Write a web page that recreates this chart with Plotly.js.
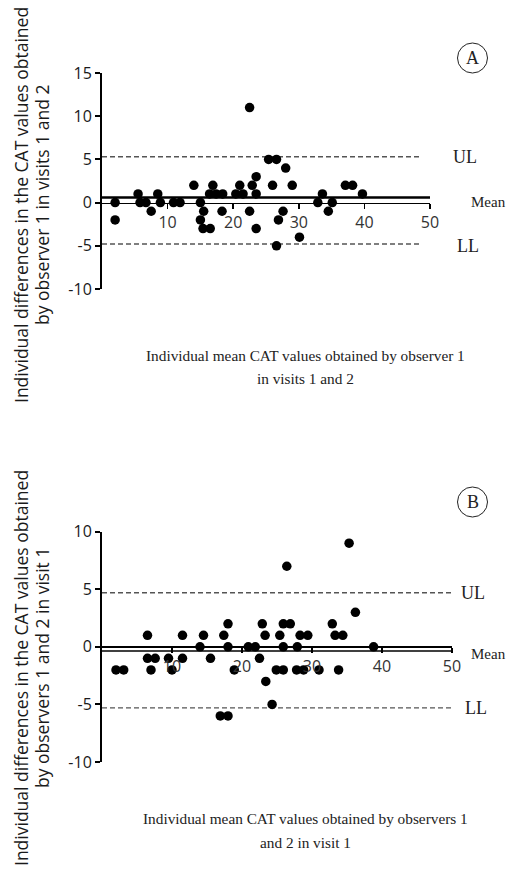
<!DOCTYPE html>
<html>
<head>
<meta charset="utf-8">
<script src="https://cdn.plot.ly/plotly-3.0.1.min.js"></script>
<style>html,body{margin:0;padding:0;background:#fff;}#chart{width:512px;height:874px;}</style>
</head>
<body>
<div id="chart"></div>
<script>
// ---- Panel A data (observer 1, visits 1 and 2) ----
const meanA = [2,2,5.5,5.8,6.7,7.5,8.5,8.9,10.9,11.9,14,15,15,15.5,15.4,16.5,16.4,16.9,17.4,18.4,18.3,20.4,21,21.5,22.5,22.5,22.9,23.5,23.5,23.5,25.4,26.6,26,28,29,27.6,26.9,30.1,26.6,32.9,33.6,35.1,34.5,37.1,38.2,39.7];
const diffA = [0,-2,1,0,0,-1,1,0,0,0,2,0,-2,-1,-3,-3,1,2,1,1,-1,1,2,1,11,-1,2,3,1,-3,5,5,2,4,2,-1,-2,-4,-5,0,1,0,-1,2,2,1];
const limitsA = [5.3, 0.6, -4.8];   // UL, Mean, LL
// ---- Panel B data (observers 1 and 2, visit 1) ----
const meanB = [2,3.1,6.5,6.5,7.6,7,9.5,10,11.5,11.5,14,14.5,15.5,17.4,18,18,18.9,16.9,18,20.9,21.9,22.5,22.9,23.3,23.4,24.3,24.9,25.9,25.4,25.9,26.9,26.4,25.9,27.9,27.8,28.8,28.3,29.4,31,32.9,33.3,34.4,33.8,36.2,35.3,38.8];
const diffB = [-2,-2,1,-1,-1,-2,-1,-2,1,-1,0,1,-1,1,2,0,-2,-6,-6,0,0,-1,2,1,-3,-5,-2,-2,1,2,2,7,0,0,-2,-2,1,1,-2,2,1,1,-2,3,9,0];
const limitsB = [4.7, -0.35, -5.3];
// ---- axis ticks ----
const xTicks = [10,20,30,40,50];
const yTicksA = [-10,-5,0,5,10,15];
const yTicksB = [-10,-5,0,5,10];
const yTickTextA = ["-10","-5","0","5","10","15"];
const yTickTextB = ["-10","-5","0","5","10"];

const W = 512, H = 874;
const fx = p => p / W;
const fy = p => 1 - p / H;

const domYA = [fy(289), fy(73)];
const domYB = [fy(762), fy(531.7)];
const rangeYA = [-10, 15];
const rangeYB = [-10, 10];
const zeroPos = (dom, r) => dom[0] + (0 - r[0]) / (r[1] - r[0]) * (dom[1] - dom[0]);

const tickFont = {family: "Open Sans, sans-serif", size: 16, color: "#1a1a1a"};
const dotStyle = {color: "#000", size: 9.5};
const dashStyle = {color: "#555", width: 1.4, dash: "5px,3px"};

const traces = [
  {x: [0, 48.7], y: [limitsA[0], limitsA[0]], mode: "lines", line: dashStyle, xaxis: "x", yaxis: "y", hoverinfo: "skip"},
  {x: [0, 48.7], y: [limitsA[2], limitsA[2]], mode: "lines", line: dashStyle, xaxis: "x", yaxis: "y", hoverinfo: "skip"},
  {x: [0, 50], y: [limitsA[1], limitsA[1]], mode: "lines", line: {color: "#000", width: 2.5}, xaxis: "x", yaxis: "y", hoverinfo: "skip"},
  {x: meanA, y: diffA, mode: "markers", marker: dotStyle, xaxis: "x", yaxis: "y", cliponaxis: false},
  {x: [0, 50], y: [limitsB[0], limitsB[0]], mode: "lines", line: dashStyle, xaxis: "x2", yaxis: "y2", hoverinfo: "skip"},
  {x: [0, 50], y: [limitsB[2], limitsB[2]], mode: "lines", line: dashStyle, xaxis: "x2", yaxis: "y2", hoverinfo: "skip"},
  {x: [0, 50], y: [limitsB[1], limitsB[1]], mode: "lines", line: {color: "#000", width: 1.5}, xaxis: "x2", yaxis: "y2", hoverinfo: "skip"},
  {x: meanB, y: diffB, mode: "markers", marker: dotStyle, xaxis: "x2", yaxis: "y2", cliponaxis: false}
];

const xCommon = {range: [0, 50], anchor: "free", side: "bottom", showline: true, linecolor: "#000",
  ticks: "outside", ticklen: 5, tickwidth: 1.5, tickcolor: "#000", tickvals: xTicks,
  showgrid: false, zeroline: false, tickfont: {family: "Open Sans, sans-serif", size: 16, color: "#333"}};
const yCommon = {showline: true, linecolor: "#000", linewidth: 2, ticks: "outside", ticklen: 5,
  tickwidth: 2, tickcolor: "#000", showgrid: false, zeroline: false, tickfont: tickFont};

const serif = {family: "Liberation Serif, serif", color: "#222"};
const sans = {family: "Open Sans, sans-serif", size: 17.5, color: "#1a1a1a"};

const ann = [];
function txt(t, x, y, font, opts) {
  ann.push(Object.assign({text: t, x: fx(x), y: fy(y), xref: "paper", yref: "paper", showarrow: false,
    xanchor: "center", yanchor: "middle", font: font}, opts || {}));
}
txt("Individual differences in the CAT values obtained", 21, 205, sans, {textangle: -90});
txt("by observer 1 in visits 1 and 2", 42, 205, sans, {textangle: -90});
txt("Individual differences in the CAT values obtained", 21, 668, sans, {textangle: -90});
txt("by observers 1 and 2 in visit 1", 42, 668, sans, {textangle: -90});
const xt = Object.assign({size: 15.3}, serif);
txt("Individual mean CAT values obtained by observer 1", 305, 355, xt);
txt("in visits 1 and 2", 305, 378, xt);
txt("Individual mean CAT values obtained by observers 1", 305, 818, xt);
txt("and 2 in visit 1", 305, 842, xt);
txt("UL", 465, 157, Object.assign({size: 18}, serif));
txt("LL", 468, 246, Object.assign({size: 18}, serif));
txt("Mean", 469, 202, Object.assign({size: 15}, serif), {xanchor: "left"});
txt("UL", 473, 593, Object.assign({size: 18}, serif));
txt("LL", 476, 708, Object.assign({size: 18}, serif));
txt("Mean", 469, 654, Object.assign({size: 15}, serif), {xanchor: "left"});
txt("A", 472.5, 58, Object.assign({size: 18}, serif));
txt("B", 472.5, 502, Object.assign({size: 18}, serif));

const circ = (cx, cy, r) => ({type: "circle", xref: "paper", yref: "paper",
  x0: fx(cx - r), x1: fx(cx + r), y0: fy(cy + r), y1: fy(cy - r), line: {color: "#222", width: 1}});

const layout = {
  width: W, height: H, margin: {l: 0, r: 0, t: 0, b: 0}, showlegend: false,
  paper_bgcolor: "#fff", plot_bgcolor: "#fff",
  xaxis: Object.assign({}, xCommon, {domain: [fx(102), fx(430)], position: zeroPos(domYA, rangeYA), linewidth: 1.2}),
  yaxis: Object.assign({}, yCommon, {domain: domYA, range: rangeYA, anchor: "x", tickvals: yTicksA, ticktext: yTickTextA}),
  xaxis2: Object.assign({}, xCommon, {domain: [fx(102), fx(452)], position: zeroPos(domYB, rangeYB), linewidth: 2.2}),
  yaxis2: Object.assign({}, yCommon, {domain: domYB, range: rangeYB, anchor: "x2", tickvals: yTicksB, ticktext: yTickTextB}),
  annotations: ann,
  shapes: [circ(472.5, 58, 15), circ(472.5, 502, 15)]
};

Plotly.newPlot("chart", traces, layout, {staticPlot: true, displayModeBar: false});
</script>
</body>
</html>
